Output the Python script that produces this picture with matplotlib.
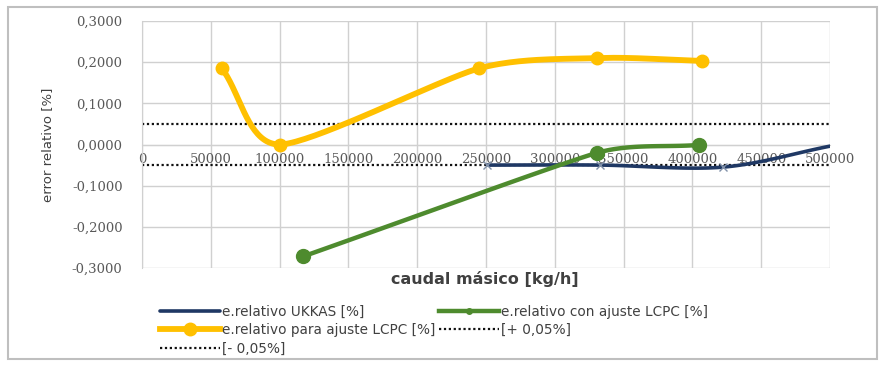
import numpy as np
import matplotlib
matplotlib.use("Agg")
import matplotlib.pyplot as plt
from matplotlib.ticker import FuncFormatter
from matplotlib.patches import Rectangle

# ---- data ----
x_ukkas = [251000, 333000, 422000, 500000]
y_ukkas = [-0.050, -0.050, -0.055, -0.004]

x_con = [117000, 331000, 405000]
y_con = [-0.272, -0.020, -0.001]

x_para = [58000, 100000, 245000, 331000, 407000]
y_para = [0.185, 0.000, 0.185, 0.210, 0.203]

x_lim_line = [0, 500000]
y_plus = [0.05, 0.05]
y_minus = [-0.05, -0.05]

x_ticks = [0, 50000, 100000, 150000, 200000, 250000, 300000, 350000, 400000, 450000, 500000]
y_ticks = [-0.3, -0.2, -0.1, 0.0, 0.1, 0.2, 0.3]

labels = ["e.relativo UKKAS [%]", "e.relativo con ajuste LCPC [%]",
          "e.relativo para ajuste LCPC [%]", "[+ 0,05%]", "[- 0,05%]"]

XR, YR = 500000.0, 0.6
SX, SY = 688.0, 247.0


def smooth(xs, ys, n=40):
    """Smoothed line through the points (Bezier, computed in screen-like space)."""
    P = np.column_stack([np.asarray(xs) / XR * SX, np.asarray(ys) / YR * SY])
    if len(P) < 3:
        return xs, ys
    m = len(P)
    tang = []
    for i in range(m):
        a = P[i - 1] if i > 0 else P[i]
        b = P[i + 1] if i < m - 1 else P[i]
        d = b - a
        tang.append(d / (np.linalg.norm(d) + 1e-12))
    out = []
    for i in range(m - 1):
        p1, p2 = P[i], P[i + 1]
        L = np.linalg.norm(p2 - p1)
        l_prev = np.linalg.norm(P[i] - P[i - 1]) if i > 0 else L
        l_next = np.linalg.norm(P[i + 2] - P[i + 1]) if i + 2 < m else L
        c1 = p1 + tang[i] * min(L, l_prev) / 3.0
        c2 = p2 - tang[i + 1] * min(L, l_next) / 3.0
        t = np.linspace(0, 1, n)[:, None]
        seg = ((1 - t) ** 3) * p1 + 3 * ((1 - t) ** 2) * t * c1 + 3 * (1 - t) * t ** 2 * c2 + t ** 3 * p2
        out.append(seg if i == 0 else seg[1:])
    S = np.vstack(out)
    return S[:, 0] / SX * XR, S[:, 1] / SY * YR


plt.rcParams['font.family'] = ['DejaVu Sans']

fig = plt.figure(figsize=(8.8, 3.65), dpi=100)
ax = fig.add_axes([142 / 880, 1 - 268 / 365, 688 / 880, 247 / 365])

c_blue = '#1F3864'
c_green = '#4E8B2E'
c_yellow = '#FFC000'

sx, sy = smooth(x_ukkas, y_ukkas)
h_ukkas, = ax.plot(sx, sy, color=c_blue, lw=2.6, solid_capstyle='round', zorder=4)
ax.plot(x_ukkas[:-1], y_ukkas[:-1], ls='none', marker='x', ms=6, mew=1, color='#8090A8', zorder=5)

sx, sy = smooth(x_con, y_con)
ax.plot(sx, sy, color=c_green, lw=3.2, solid_capstyle='round', zorder=4)
ax.plot(x_con, y_con, ls='none', marker='o', ms=10, color=c_green, zorder=5)
h_con, = ax.plot([], [], color=c_green, lw=3.2, marker='o', ms=4)

sx, sy = smooth(x_para, y_para)
ax.plot(sx, sy, color=c_yellow, lw=4.2, solid_capstyle='round', zorder=3)
ax.plot(x_para, y_para, ls='none', marker='o', ms=9, color=c_yellow, zorder=3)
h_para, = ax.plot([], [], color=c_yellow, lw=4.2, marker='o', ms=9)

h_plus, = ax.plot(x_lim_line, y_plus, color='#111111', lw=1.6, ls=(0, (1, 1.2)), zorder=2)
h_minus, = ax.plot(x_lim_line, y_minus, color='#111111', lw=1.6, ls=(0, (1, 1.2)), zorder=2)

ax.set_xlim(0, 500000)
ax.set_ylim(-0.3, 0.3)
ax.set_xticks(x_ticks)
ax.set_yticks(y_ticks)
ax.xaxis.set_major_formatter(FuncFormatter(lambda v, p: f"{int(v)}"))
ax.yaxis.set_major_formatter(FuncFormatter(lambda v, p: f"{v:.4f}".replace('.', ',') if abs(v) > 1e-9 else "0,0000"))
ax.grid(True, color='#D0D0D0', lw=1.0)
ax.set_axisbelow(True)
for s in ['top', 'right']:
    ax.spines[s].set_visible(False)
ax.spines['bottom'].set_position(('data', 0))
ax.spines['bottom'].set_color('#D0D0D0')
ax.spines['left'].set_color('#D0D0D0')
ax.tick_params(axis='both', length=0, labelcolor='#595959')
for lab in ax.get_xticklabels() + ax.get_yticklabels():
    lab.set_fontfamily('DejaVu Serif')
    lab.set_fontsize(9.5)
ax.tick_params(axis='x', pad=6)
ax.tick_params(axis='y', pad=14)

ax.set_ylabel("error relativo [%]", fontsize=9.5, color='#404040')
ax.yaxis.set_label_coords(-0.128, 0.5)
fig.text(485 / 880, 1 - 279 / 365, "caudal másico [kg/h]", fontsize=11.5, fontweight='bold',
         color='#404040', ha='center', va='center')

handles = [h_ukkas, h_para, h_minus, h_con, h_plus]
hl = [labels[0], labels[2], labels[4], labels[1], labels[3]]
fig.legend(handles, hl, loc='upper left', bbox_to_anchor=(153 / 880, 1 - 298 / 365),
           ncol=2, frameon=False, fontsize=9.8, handlelength=4.4, handletextpad=0.15,
           columnspacing=0.3, labelspacing=0.32, labelcolor='#404040', borderpad=0)

fig.patches.append(Rectangle((8 / 880, 1 - 359 / 365), 869 / 880, 352 / 365,
                             transform=fig.transFigure, fill=False, ec='#BFBFBF', lw=1.5))

fig.savefig("out.png", dpi=100)
